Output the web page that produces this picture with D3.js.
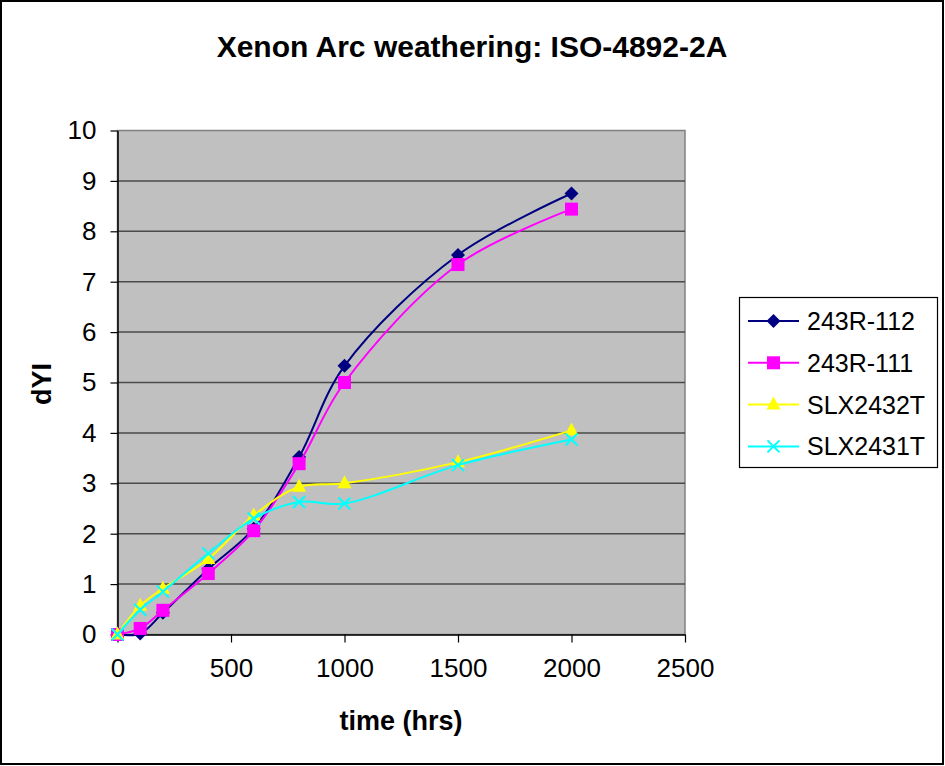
<!DOCTYPE html>
<html>
<head>
<meta charset="utf-8">
<script src="https://cdn.jsdelivr.net/npm/d3@7"></script>
<style>
  body { margin: 0; background: #fff; }
  svg { display: block; font-family: Arial, "Liberation Sans", sans-serif; }
</style>
</head>
<body>
<svg id="chart" width="945" height="766"></svg>
<script>
// values
var hours = [0, 100, 200, 400, 600, 800, 1000, 1500, 2000];
var s243R112 = [0, 0.02, 0.43, 1.3, 2.1, 3.52, 5.33, 7.53, 8.75];
var s243R111 = [0, 0.12, 0.48, 1.21, 2.06, 3.39, 5.0, 7.34, 8.44];
var sSLX2432T = [0, 0.57, 0.91, 1.5, 2.36, 2.93, 3.0, 3.42, 4.05];
var sSLX2431T = [0, 0.49, 0.85, 1.61, 2.3, 2.63, 2.6, 3.36, 3.87];
var seriesNames = ["243R-112", "243R-111", "SLX2432T", "SLX2431T"];
var xTicks = [0, 500, 1000, 1500, 2000, 2500];
var yTicks = [0, 1, 2, 3, 4, 5, 6, 7, 8, 9, 10];

var colors = ["#000080", "#ff00ff", "#ffff00", "#00ffff"];
var shapes = ["diamond", "square", "triangle", "cross"];
var allValues = [s243R112, s243R111, sSLX2432T, sSLX2431T];

var svg = d3.select("#chart");

var x = d3.scaleLinear().domain([0, 2500]).range([117.5, 685]);
var y = d3.scaleLinear().domain([0, 10]).range([634.5, 130.5]);

// outer frame
svg.append("rect")
  .attr("x", 1).attr("y", 1).attr("width", 942).attr("height", 763)
  .attr("fill", "#fff").attr("stroke", "#000").attr("stroke-width", 2);

// plot area
svg.append("rect")
  .attr("x", x(0)).attr("y", y(10))
  .attr("width", x(2500) - x(0)).attr("height", y(0) - y(10))
  .attr("fill", "#c0c0c0").attr("stroke", "#808080").attr("stroke-width", 1.5);

// gridlines
svg.append("g").selectAll("line")
  .data(yTicks.filter(function (d) { return d > 0 && d < 10; }))
  .enter().append("line")
  .attr("x1", x(0)).attr("x2", x(2500))
  .attr("y1", function (d) { return y(d); })
  .attr("y2", function (d) { return y(d); })
  .attr("stroke", "#4a4a4a").attr("stroke-width", 1.5);

// axes
var yAxis = d3.axisLeft(y).tickValues(yTicks).tickFormat(d3.format("d"))
  .tickSize(7).tickSizeOuter(0).tickPadding(14);
var xAxis = d3.axisBottom(x).tickValues(xTicks).tickFormat(d3.format("d"))
  .tickSize(8).tickSizeOuter(0).tickPadding(16);

var gy = svg.append("g").attr("transform", "translate(" + x(0) + ",0)").call(yAxis);
var gx = svg.append("g").attr("transform", "translate(0," + y(0) + ")").call(xAxis);

[gx, gy].forEach(function (g) {
  g.select(".domain").attr("stroke", "#000").attr("stroke-width", 1.5);
  g.selectAll(".tick line").attr("stroke", "#000").attr("stroke-width", 1.2);
  g.selectAll(".tick text").attr("font-size", 26).attr("fill", "#000")
    .attr("font-family", "Arial, 'Liberation Sans', sans-serif");
});

// series
var line = d3.line()
  .x(function (d) { return x(d[0]); })
  .y(function (d) { return y(d[1]); })
  .curve(d3.curveCatmullRom.alpha(0.5));

var marker = function (g, shape, color, cx, cy) {
  if (shape === "diamond") {
    g.append("path")
      .attr("d", "M" + cx + "," + (cy - 7) + "L" + (cx + 7) + "," + cy +
        "L" + cx + "," + (cy + 7) + "L" + (cx - 7) + "," + cy + "Z")
      .attr("fill", color);
  } else if (shape === "square") {
    g.append("rect")
      .attr("x", cx - 6.5).attr("y", cy - 6.5)
      .attr("width", 13).attr("height", 13)
      .attr("fill", color);
  } else if (shape === "triangle") {
    g.append("path")
      .attr("d", "M" + cx + "," + (cy - 8) + "L" + (cx + 7) + "," + (cy + 5) +
        "L" + (cx - 7) + "," + (cy + 5) + "Z")
      .attr("fill", color);
  } else {
    g.append("path")
      .attr("d", "M" + (cx - 6) + "," + (cy - 6) + "L" + (cx + 6) + "," + (cy + 6) +
        "M" + (cx + 6) + "," + (cy - 6) + "L" + (cx - 6) + "," + (cy + 6))
      .attr("stroke", color).attr("stroke-width", 2).attr("fill", "none");
  }
};

allValues.forEach(function (vals, i) {
  var pts = hours.map(function (h, j) { return [h, vals[j]]; });
  var g = svg.append("g");
  g.append("path")
    .attr("d", line(pts))
    .attr("fill", "none")
    .attr("stroke", colors[i])
    .attr("stroke-width", 2);
  pts.forEach(function (p) {
    marker(g, shapes[i], colors[i], x(p[0]), y(p[1]));
  });
});

// titles
svg.append("text")
  .attr("x", 472).attr("y", 57)
  .attr("text-anchor", "middle")
  .attr("font-size", 30).attr("font-weight", "bold")
  .text("Xenon Arc weathering: ISO-4892-2A");

svg.append("text")
  .attr("x", 401).attr("y", 730)
  .attr("text-anchor", "middle")
  .attr("font-size", 27).attr("font-weight", "bold")
  .text("time (hrs)");

svg.append("text")
  .attr("transform", "translate(51,384) rotate(-90)")
  .attr("text-anchor", "middle")
  .attr("font-size", 27).attr("font-weight", "bold")
  .text("dYI");

// legend
var legend = svg.append("g");
legend.append("rect")
  .attr("x", 739.5).attr("y", 297.5).attr("width", 198).attr("height", 170)
  .attr("fill", "#fff").attr("stroke", "#000").attr("stroke-width", 1.2);

seriesNames.forEach(function (name, i) {
  var ly = 321 + i * 41.8;
  legend.append("line")
    .attr("x1", 748).attr("x2", 799).attr("y1", ly).attr("y2", ly)
    .attr("stroke", colors[i]).attr("stroke-width", 2);
  marker(legend, shapes[i], colors[i], 773.5, ly);
  legend.append("text")
    .attr("x", 807).attr("y", ly + 9)
    .attr("font-size", 25)
    .text(name);
});
</script>
</body>
</html>
